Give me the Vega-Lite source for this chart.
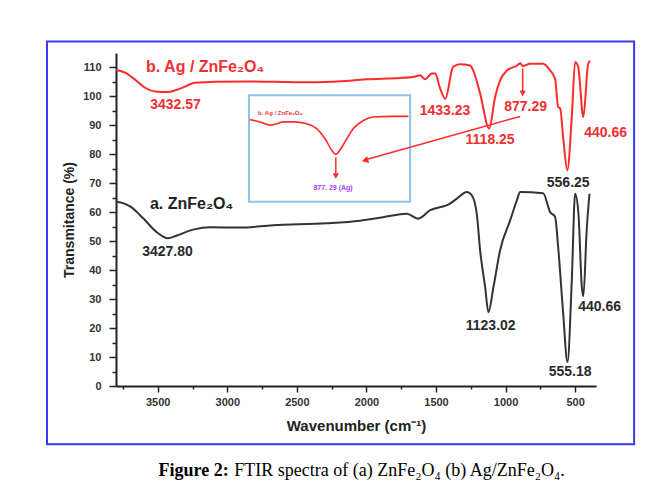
{
  "$schema": "https://vega.github.io/schema/vega-lite/v6.json",
  "width": 480,
  "height": 333,
  "autosize": {"type": "none"},
  "padding": {"left": 116, "top": 53, "right": 68, "bottom": 110},
  "background": "white",
  "config": {"view": {"stroke": null}, "font": "Liberation Sans"},
  "datasets": {
    "frame": [{"wn": 4296, "wn2": 76, "t": 119, "t2": -20.1}],
    "insetbox": [{"wn": 2844, "wn2": 1686, "t": 100.4, "t2": 63.6}],
    "a": [
      {"wn": 3800, "t": 63.6}, {"wn": 3740, "t": 63.0}, {"wn": 3699, "t": 62.0}, {"wn": 3606, "t": 58.0}, {"wn": 3507, "t": 53.1},
      {"wn": 3428, "t": 51.0}, {"wn": 3363, "t": 52.0}, {"wn": 3245, "t": 54.0}, {"wn": 3123, "t": 54.8},
      {"wn": 2908, "t": 54.7}, {"wn": 2671, "t": 55.5}, {"wn": 2285, "t": 56.2}, {"wn": 2046, "t": 57.1},
      {"wn": 1880, "t": 58.3}, {"wn": 1710, "t": 59.5}, {"wn": 1629, "t": 57.8}, {"wn": 1542, "t": 60.7},
      {"wn": 1399, "t": 63.0}, {"wn": 1350, "t": 64.7}, {"wn": 1278, "t": 67.0}, {"wn": 1242, "t": 65.8},
      {"wn": 1207, "t": 59.5}, {"wn": 1183, "t": 46.9}, {"wn": 1147, "t": 34.2}, {"wn": 1123, "t": 25.5},
      {"wn": 1087, "t": 34.2}, {"wn": 1039, "t": 46.9}, {"wn": 967, "t": 57.2}, {"wn": 919, "t": 64.1},
      {"wn": 895, "t": 67.0}, {"wn": 730, "t": 66.6}, {"wn": 680, "t": 60.1}, {"wn": 644, "t": 58.4},
      {"wn": 622, "t": 48.0}, {"wn": 586, "t": 25.1}, {"wn": 555, "t": 8.3}, {"wn": 524, "t": 36.5},
      {"wn": 500, "t": 66.4}, {"wn": 476, "t": 59.5}, {"wn": 452, "t": 34.2}, {"wn": 441, "t": 31.0},
      {"wn": 417, "t": 53.8}, {"wn": 397, "t": 66.4}
    ],
    "b": [
      {"wn": 3800, "t": 109.2}, {"wn": 3735, "t": 108.2}, {"wn": 3663, "t": 105.8}, {"wn": 3591, "t": 103.0},
      {"wn": 3519, "t": 101.7}, {"wn": 3432, "t": 101.5}, {"wn": 3339, "t": 102.7}, {"wn": 3231, "t": 104.7},
      {"wn": 3087, "t": 105.1}, {"wn": 2835, "t": 105.2}, {"wn": 2475, "t": 104.9}, {"wn": 2240, "t": 105.1},
      {"wn": 2000, "t": 105.9}, {"wn": 1758, "t": 106.4}, {"wn": 1664, "t": 106.7}, {"wn": 1614, "t": 107.3},
      {"wn": 1578, "t": 105.9}, {"wn": 1530, "t": 107.9}, {"wn": 1506, "t": 107.9}, {"wn": 1470, "t": 102.7},
      {"wn": 1433, "t": 99.2}, {"wn": 1377, "t": 110.2}, {"wn": 1327, "t": 111.1}, {"wn": 1255, "t": 110.7},
      {"wn": 1233, "t": 109.0}, {"wn": 1183, "t": 101.0}, {"wn": 1118, "t": 88.9}, {"wn": 1075, "t": 99.8},
      {"wn": 1039, "t": 105.6}, {"wn": 989, "t": 109.0}, {"wn": 917, "t": 110.7}, {"wn": 895, "t": 111.5},
      {"wn": 877, "t": 110.5}, {"wn": 823, "t": 111.3}, {"wn": 730, "t": 111.3}, {"wn": 680, "t": 109.0},
      {"wn": 644, "t": 106.1}, {"wn": 622, "t": 96.3}, {"wn": 608, "t": 95.9}, {"wn": 584, "t": 84.8},
      {"wn": 556, "t": 74.5}, {"wn": 524, "t": 92.9}, {"wn": 500, "t": 111.9}, {"wn": 478, "t": 110.2},
      {"wn": 441, "t": 92.9}, {"wn": 406, "t": 111.3}, {"wn": 392, "t": 112.3}
    ],
    "inset": [
      {"wn": 2837, "t": 92.0}, {"wn": 2765, "t": 91.2}, {"wn": 2694, "t": 90.1}, {"wn": 2645, "t": 90.6},
      {"wn": 2597, "t": 91.2}, {"wn": 2525, "t": 91.2}, {"wn": 2429, "t": 90.6}, {"wn": 2357, "t": 88.9},
      {"wn": 2297, "t": 85.4}, {"wn": 2249, "t": 81.4}, {"wn": 2220, "t": 80.0}, {"wn": 2189, "t": 81.6},
      {"wn": 2141, "t": 85.4}, {"wn": 2094, "t": 88.9}, {"wn": 2022, "t": 91.7}, {"wn": 1950, "t": 92.9},
      {"wn": 1830, "t": 93.1}, {"wn": 1698, "t": 93.1}
    ],
    "arrows": [
      {"wn": 895, "t": 93.1, "wn2": 2000, "t2": 78.2},
      {"wn": 877, "t": 109.7, "wn2": 877, "t2": 101.5},
      {"wn": 2220, "t": 79.0, "wn2": 2220, "t2": 73.0}
    ],
    "headsDown": [{"wn": 877, "t": 101.0}, {"wn": 2220, "t": 72.5}],
    "headsDiag": [{"wn": 2010, "t": 77.9}],
    "redLabels": [
      {"wn": 3372, "t": 96.9, "label": "3432.57"},
      {"wn": 1435, "t": 94.9, "label": "1433.23"},
      {"wn": 856, "t": 96.2, "label": "877.29"},
      {"wn": 1111, "t": 84.8, "label": "1118.25"},
      {"wn": 281, "t": 87.3, "label": "440.66"}
    ],
    "blackLabels": [
      {"wn": 550, "t": 70.0, "label": "556.25"},
      {"wn": 3430, "t": 46.2, "label": "3427.80"},
      {"wn": 1107, "t": 20.6, "label": "1123.02"},
      {"wn": 324, "t": 27.2, "label": "440.66"},
      {"wn": 536, "t": 4.7, "label": "555.18"}
    ],
    "redTitle": [{"wn": 3584, "t": 110.0, "label": "b. Ag / ZnFe₂O₄"}],
    "blackTitle": [{"wn": 3556, "t": 62.7, "label": "a. ZnFe₂O₄"}],
    "insetTitle": [{"wn": 2779, "t": 94.2, "label": "b. Ag / ZnFe₂O₄"}],
    "insetNote": [{"wn": 2240, "t": 68.3, "label": "877. 29 (Ag)"}],
    "capBold": [{"wn": 2990, "t": -29.5, "label": "Figure 2:"}],
    "capText": [{"wn": 2950, "t": -29.5, "label": "FTIR spectra of (a) ZnFe₂O₄ (b) Ag/ZnFe₂O₄."}]
  },
  "encoding": {
    "x": {
      "field": "wn", "type": "quantitative",
      "scale": {"domain": [350, 3800], "reverse": true, "nice": false, "zero": false},
      "axis": {
        "title": "Wavenumber (cm⁻¹)",
        "values": [500, 750, 1000, 1250, 1500, 1750, 2000, 2250, 2500, 2750, 3000, 3250, 3500, 3750],
        "format": "d",
        "labelExpr": "datum.value % 500 === 0 ? datum.label : ''",
        "labelOverlap": false,
        "tickSize": {"condition": {"test": "datum.value % 500 === 0", "value": 6}, "value": 3},
        "labelPadding": 4,
        "grid": false,
        "domainColor": "#222", "domainWidth": 2,
        "tickColor": "#222", "tickWidth": 1.5,
        "labelColor": "#333", "labelFontWeight": "bold", "labelFontSize": 11, "labelFont": "Liberation Sans",
        "titleFont": "Liberation Sans", "titleFontSize": 15, "titleFontWeight": "bold", "titleColor": "#222", "titlePadding": 11
      }
    },
    "y": {
      "field": "t", "type": "quantitative",
      "scale": {"domain": [0, 115], "nice": false, "zero": false},
      "axis": {
        "title": "Transmitance (%)",
        "values": [0, 5, 10, 15, 20, 25, 30, 35, 40, 45, 50, 55, 60, 65, 70, 75, 80, 85, 90, 95, 100, 105, 110],
        "labelExpr": "datum.value % 10 === 0 ? datum.label : ''",
        "labelOverlap": false,
        "tickSize": {"condition": {"test": "datum.value % 10 === 0", "value": 7}, "value": 4},
        "labelPadding": 8,
        "grid": false,
        "domainColor": "#222", "domainWidth": 2,
        "tickColor": "#222", "tickWidth": 1.5,
        "labelColor": "#333", "labelFontWeight": "bold", "labelFontSize": 11, "labelFont": "Liberation Sans",
        "titleFont": "Liberation Sans", "titleFontSize": 14, "titleFontWeight": "bold", "titleColor": "#222", "titlePadding": 6
      }
    }
  },
  "layer": [
    {
      "data": {"name": "frame"},
      "mark": {"type": "rect", "fill": "white", "fillOpacity": 0, "stroke": "#3a3aee", "strokeWidth": 2, "clip": false},
      "encoding": {"x2": {"field": "wn2"}, "y2": {"field": "t2"}}
    },
    {
      "data": {"name": "a"},
      "mark": {"type": "line", "color": "#333333", "strokeWidth": 2, "interpolate": "monotone"}
    },
    {
      "data": {"name": "b"},
      "mark": {"type": "line", "color": "#ff2a2a", "strokeWidth": 2, "interpolate": "monotone"}
    },
    {
      "data": {"name": "insetbox"},
      "mark": {"type": "rect", "fill": "white", "fillOpacity": 0, "stroke": "#8ec4e8", "strokeWidth": 2},
      "encoding": {"x2": {"field": "wn2"}, "y2": {"field": "t2"}}
    },
    {
      "data": {"name": "inset"},
      "mark": {"type": "line", "color": "#ff2a2a", "strokeWidth": 1.6, "interpolate": "monotone"}
    },
    {
      "data": {"name": "arrows"},
      "mark": {"type": "rule", "color": "#ff2a2a", "strokeWidth": 1.5},
      "encoding": {"x2": {"field": "wn2"}, "y2": {"field": "t2"}}
    },
    {
      "data": {"name": "headsDown"},
      "mark": {"type": "point", "shape": "triangle-down", "filled": true, "color": "#ff2a2a", "size": 40, "opacity": 1}
    },
    {
      "data": {"name": "headsDiag"},
      "mark": {"type": "point", "shape": "triangle-up", "angle": 254, "filled": true, "color": "#ff2a2a", "size": 55, "opacity": 1}
    },
    {
      "data": {"name": "redLabels"},
      "mark": {"type": "text", "color": "#f03030", "font": "Liberation Sans", "fontWeight": "bold", "fontSize": 14, "align": "center", "baseline": "middle"},
      "encoding": {"text": {"field": "label"}}
    },
    {
      "data": {"name": "blackLabels"},
      "mark": {"type": "text", "color": "#2a2a2a", "font": "Liberation Sans", "fontWeight": "bold", "fontSize": 14, "align": "center", "baseline": "middle"},
      "encoding": {"text": {"field": "label"}}
    },
    {
      "data": {"name": "redTitle"},
      "mark": {"type": "text", "color": "#f03030", "font": "Liberation Sans", "fontWeight": "bold", "fontSize": 16, "align": "left", "baseline": "middle"},
      "encoding": {"text": {"field": "label"}}
    },
    {
      "data": {"name": "blackTitle"},
      "mark": {"type": "text", "color": "#222222", "font": "Liberation Sans", "fontWeight": "bold", "fontSize": 16, "align": "left", "baseline": "middle"},
      "encoding": {"text": {"field": "label"}}
    },
    {
      "data": {"name": "insetTitle"},
      "mark": {"type": "text", "color": "#f03030", "font": "Liberation Sans", "fontWeight": "bold", "fontSize": 6, "align": "left", "baseline": "middle"},
      "encoding": {"text": {"field": "label"}}
    },
    {
      "data": {"name": "insetNote"},
      "mark": {"type": "text", "color": "#a040ff", "font": "Liberation Sans", "fontWeight": "bold", "fontSize": 7, "align": "center", "baseline": "middle"},
      "encoding": {"text": {"field": "label"}}
    },
    {
      "data": {"name": "capBold"},
      "mark": {"type": "text", "color": "#000000", "font": "Liberation Serif", "fontWeight": "bold", "fontSize": 18, "align": "right", "baseline": "middle"},
      "encoding": {"text": {"field": "label"}}
    },
    {
      "data": {"name": "capText"},
      "mark": {"type": "text", "color": "#000000", "font": "Liberation Serif", "fontSize": 18, "align": "left", "baseline": "middle"},
      "encoding": {"text": {"field": "label"}}
    }
  ]
}
